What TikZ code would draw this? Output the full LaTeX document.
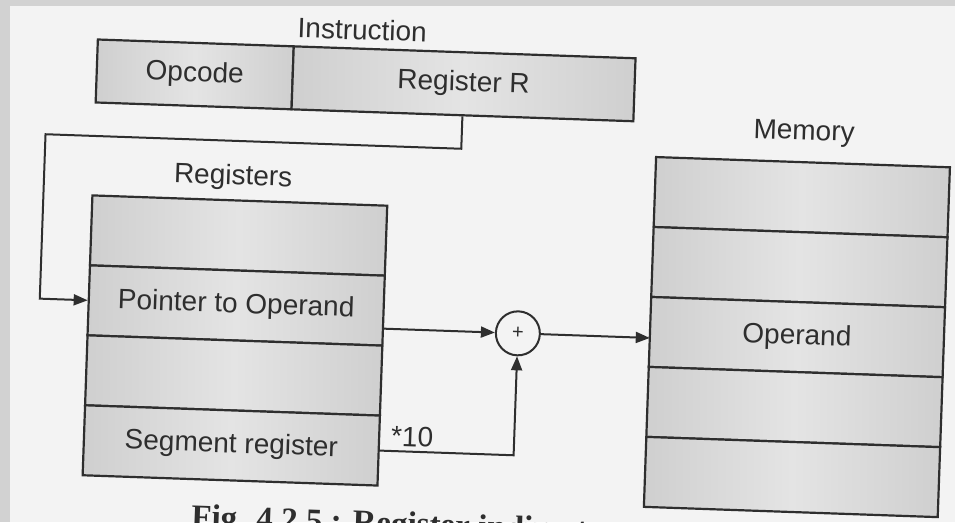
\documentclass[tikz,border=0pt]{standalone}
\usepackage{fontspec}
\setmainfont{Liberation Sans}
\newfontfamily\capfont{Liberation Serif}
\usetikzlibrary{arrows.meta}
\definecolor{paper}{HTML}{F3F3F3}
\definecolor{frame}{HTML}{D2D2D2}
\definecolor{ink}{HTML}{2E2E2E}
\definecolor{celld}{HTML}{CFCFCF}
\definecolor{celll}{HTML}{E4E4E4}
\begin{document}
\begin{tikzpicture}[x=1pt,y=-1pt,
  cell/.style={draw=ink, line width=2.2pt, left color=celld, right color=celld, middle color=celll,
    minimum width=295pt, minimum height=70pt, inner sep=0pt,
    font=\fontsize{28}{32}\selectfont, text=ink},
  lbl/.style={inner sep=0pt, font=\fontsize{28}{32}\selectfont, text=ink},
  conn/.style={draw=ink, line width=2pt},
  arr/.style={conn, -{Triangle[length=14pt,width=11pt]}},
  capt/.style={inner sep=0pt, font=\capfont\bfseries\fontsize{33}{36}\selectfont, text=ink}]
\useasboundingbox (0,0) rectangle (955,522);
\fill[frame] (0,0) rectangle (955,522);
\fill[paper] (10,6) rectangle (955,522);
\begin{scope}[rotate around={-2:(480,300)}, transform shape]
  % instruction
  \node[cell, minimum width=196pt, minimum height=63pt] (opc) at (187,84.5) {Opcode};
  \node[cell, minimum width=342pt, minimum height=63pt] (regR) at (456,84.5) {Register R};
  \node[lbl] (instr) at (353,34) {Instruction};
  % registers
  \node[lbl] (regs) at (229,186) {Registers};
  \node[cell] (r1) at (236.5,244) {};
  \node[cell] (r2) at (236.5,314) {Pointer to Operand};
  \node[cell] (r3) at (236.5,384) {};
  \node[cell] (r4) at (236.5,454) {Segment register};
  % memory
  \node[lbl] (mem) at (798,122) {Memory};
  \node[cell, minimum width=294pt] (m1) at (798,186) {};
  \node[cell, minimum width=294pt] (m2) at (798,256) {};
  \node[cell, minimum width=294pt] (m3) at (798,326) {Operand};
  \node[cell, minimum width=294pt] (m4) at (798,396) {};
  \node[cell, minimum width=294pt] (m5) at (798,466) {};
  % adder
  \node[circle, draw=ink, line width=2pt, minimum size=44pt, inner sep=0pt, fill=paper,
        font=\fontsize{20}{20}\selectfont, text=ink] (plus) at (519,332) {+};
  % corner points
  \coordinate (k1) at (456,149.5);
  \coordinate (k2) at (40,149.5);
  \coordinate (k3) at (40,314);
  \coordinate (p1) at (384,332);
  \coordinate (p2) at (651,332);
  \coordinate (k4) at (519,454);
  % connectors
  \draw[arr] (regR.south) -- (k1) -- (k2) -- (k3) -- (r2.west);
  \draw[arr] (p1) -- (plus.west);
  \draw[arr] (plus.east) -- (p2);
  \draw[arr] (r4.east) -- (k4) -- (plus.south);
  \node[lbl] (ten) at (417,439) {*10};
  % caption (cut by the page edge)
  \node[capt, anchor=base west] (cap) at (199,537) {Fig. 4.2.5 : Register indirect};
\end{scope}
\end{tikzpicture}
\end{document}
